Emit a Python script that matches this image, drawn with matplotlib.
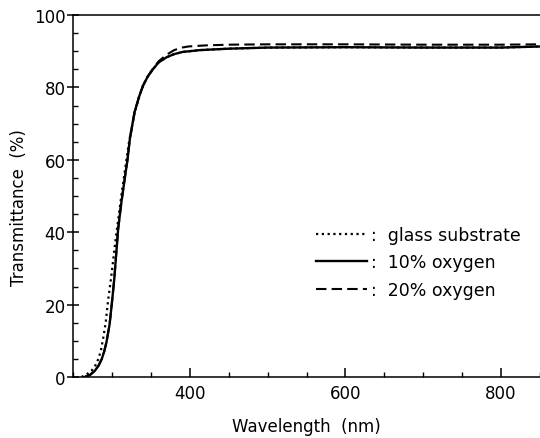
import numpy as np
import matplotlib
matplotlib.use("Agg")
import matplotlib.pyplot as plt
from matplotlib.ticker import MultipleLocator

# glass substrate (dotted)
wl_glass = [261, 268, 274, 279, 283, 286, 289, 292, 295, 299, 302, 305, 309, 313, 317, 322, 329, 335, 340, 346, 353, 360, 370, 380, 391, 413, 450, 500, 600, 700, 800, 850]
t_glass = [0, 0.8, 1.8, 3.3, 5.2, 7.5, 11, 15, 21, 27.5, 33, 38.5, 45, 51.5, 57.5, 65, 72.8, 77.5, 80.5, 83, 85.1, 86.9, 88.3, 89.2, 89.8, 90.3, 90.7, 91.0, 91.1, 91.0, 91.0, 91.3]

# 10% oxygen (solid)
wl_10 = [265, 272, 278, 283, 287, 290, 293, 297, 300, 303, 308, 312, 317, 320, 323, 329, 335, 340, 346, 353, 360, 370, 380, 391, 413, 450, 500, 600, 700, 800, 850]
t_10 = [0, 0.6, 1.7, 3.2, 5, 7, 9.6, 14.5, 20.5, 27, 40.9, 48, 55.6, 60, 65.7, 73.1, 77.5, 80.5, 83, 85.1, 86.9, 88.3, 89.2, 89.8, 90.3, 90.7, 91.0, 91.1, 91.0, 91.0, 91.3]

# 20% oxygen (dashed)
wl_20 = [265, 272, 278, 283, 287, 290, 293, 297, 300, 303, 308, 312, 317, 320, 323, 329, 335, 340, 346, 353, 360, 370, 380, 390, 398, 420, 450, 500, 600, 700, 800, 850]
t_20 = [0, 0.6, 1.7, 3.2, 5, 7, 9.6, 14.5, 20.5, 27, 40.9, 48, 55.6, 60, 65.7, 73.1, 77.5, 80.5, 83, 85.3, 87.2, 89.0, 90.3, 91.0, 91.3, 91.6, 91.8, 91.9, 91.9, 91.8, 91.8, 91.9]

plt.rcParams['font.family'] = ['DejaVu Sans']

fig = plt.figure(figsize=(5.4, 4.39), dpi=100)
ax = fig.add_axes([73/540, 1 - 378/439, 1 - 73/540, (378 - 16)/439])

ax.plot(wl_glass, t_glass, color='black', lw=1.6, linestyle=(0, (1, 1.6)), label=':  glass substrate')
ax.plot(wl_10, t_10, color='black', lw=1.7, label=':  10% oxygen')
ax.plot(wl_20, t_20, color='black', lw=1.5, linestyle=(0, (5, 2.5)), label=':  20% oxygen')

ax.set_xlim(250, 850)
ax.set_ylim(0, 100)
ax.xaxis.set_minor_locator(MultipleLocator(50))
ax.yaxis.set_major_locator(MultipleLocator(20))
ax.yaxis.set_minor_locator(MultipleLocator(5))
ax.set_xticks([400, 600, 800])

ax.spines['right'].set_visible(False)
for s in ['left', 'bottom', 'top']:
    ax.spines[s].set_linewidth(1.1)

ax.tick_params(axis='x', which='major', direction='in', length=6.5, width=1.1, pad=5, labelsize=12)
ax.tick_params(axis='x', which='minor', direction='in', length=3.6, width=1.0)
ax.tick_params(axis='y', which='major', direction='inout', length=8.6, width=1.1, pad=1, labelsize=12)
ax.tick_params(axis='y', which='minor', direction='in', length=3.8, width=1.0)

ax.set_xlabel('Wavelength  (nm)', fontsize=12, labelpad=11)
ax.set_ylabel('Transmittance  (%)', fontsize=12)
ax.yaxis.set_label_coords(-0.097, 0.47)

leg = ax.legend(loc='upper left', bbox_to_anchor=(0.521, 0.418), frameon=False,
                fontsize=12.5, handlelength=2.9, handletextpad=0.25, labelspacing=0.56,
                borderpad=0, borderaxespad=0)

fig.savefig('out.png', dpi=100)
